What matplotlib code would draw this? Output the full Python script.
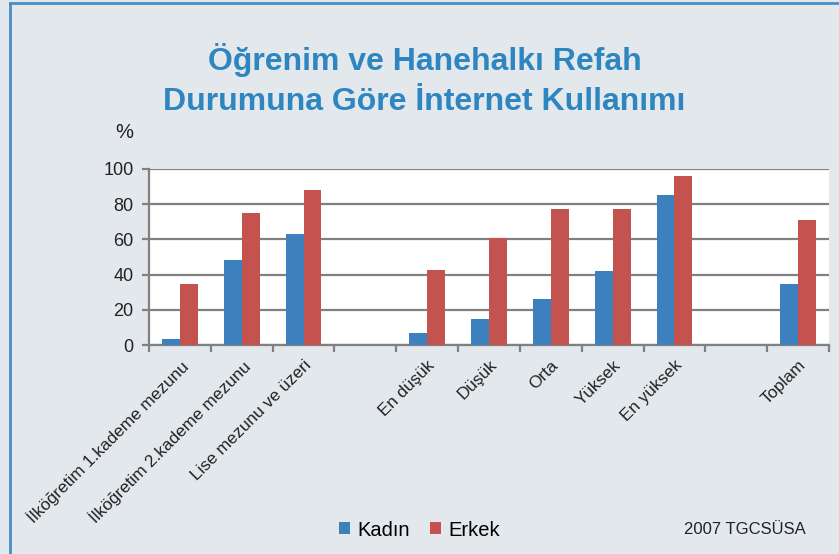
import numpy as np
import matplotlib.pyplot as plt
from matplotlib.lines import Line2D

categories = ["İlköğretim 1.kademe mezunu", "İlköğretim 2.kademe mezunu",
              "Lise mezunu ve üzeri", "", "En düşük", "Düşük", "Orta",
              "Yüksek", "En yüksek", "", "Toplam"]
kadin = [3.5, 48.5, 63, np.nan, 7, 15, 26, 42, 85.5, np.nan, 34.5]
erkek = [34.5, 75, 88, np.nan, 42.5, 61, 77, 77, 96, np.nan, 71]

bg = "#e3e8ed"
blue = "#3c80bd"
red = "#c4524f"
grey = "#808080"

plt.rcParams['font.family'] = ['Liberation Sans', 'DejaVu Sans']

fig = plt.figure(figsize=(8.39, 5.54), dpi=100, facecolor=bg)
ax = fig.add_axes([149/839, 1-345/554, 680/839, 176/554])
ax.set_facecolor("white")

x = np.arange(len(categories))
w = 0.29
ax.bar(x - w/2, kadin, w, color=blue, label="Kadın", zorder=3)
ax.bar(x + w/2, erkek, w, color=red, label="Erkek", zorder=3)

ax.set_xlim(-0.5, len(categories) - 0.5)
ax.set_ylim(0, 100)
ax.set_yticks(np.arange(0, 101, 20))
ax.yaxis.grid(True, color=grey, linewidth=1.6, zorder=0)
ax.set_xticks(x)
ax.set_xticklabels(categories, rotation=45, ha="right", rotation_mode="anchor",
                   fontsize=12.3, color="#222222")
ax.set_xticks(np.arange(-0.5, len(categories)), minor=True)
ax.tick_params(axis="x", which="major", length=0, pad=9)
ax.tick_params(axis="x", which="minor", length=5, width=1.6, color=grey)
ax.tick_params(axis="y", length=5, width=1.6, color=grey, labelsize=13,
               labelcolor="#222222", pad=6)
for s in ["top", "right"]:
    ax.spines[s].set_visible(False)
for s in ["left", "bottom"]:
    ax.spines[s].set_color(grey)
    ax.spines[s].set_linewidth(1.6)

fig.text(0.506, 1-60/554, "Öğrenim ve Hanehalkı Refah", ha="center",
         va="center", fontsize=23, fontweight="bold", color="#2e86c1")
fig.text(0.506, 1-102/554, "Durumuna Göre İnternet Kullanımı", ha="center",
         va="center", fontsize=23, fontweight="bold", color="#2e86c1")
fig.text(124/839, 1-133/554, "%", ha="center", va="center", fontsize=14.5,
         color="#222222")

fig.legend(loc="center", bbox_to_anchor=(0.5, 1-530/554), ncol=2,
           frameon=False, fontsize=14.5, handlelength=0.55, handleheight=0.55,
           handletextpad=0.35, columnspacing=1.0)
fig.text(806/839, 1-530/554, "2007 TGCSÜSA", ha="right", va="center",
         fontsize=12, color="#222222")

fig.add_artist(Line2D([10/839, 10/839], [0, 1-3/554], color="#4a8ec8",
                      linewidth=2, transform=fig.transFigure))
fig.add_artist(Line2D([10/839, 1], [1-3/554, 1-3/554], color="#4a8ec8",
                      linewidth=2, transform=fig.transFigure))

fig.savefig("out.png", dpi=100, facecolor=bg)
